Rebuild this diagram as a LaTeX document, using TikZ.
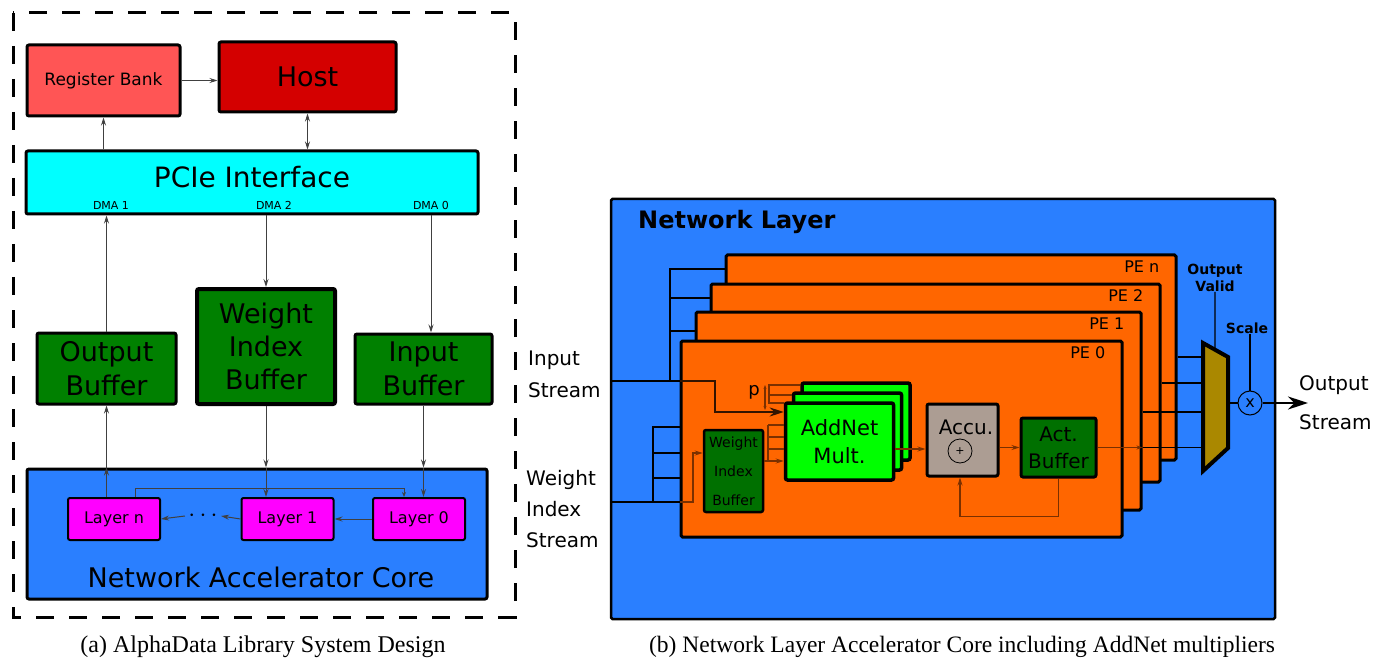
\documentclass[tikz,border=0pt]{standalone}
\usepackage{fontspec}
\setmainfont{DejaVu Sans}
\newfontfamily\capfont{Liberation Serif}
\usepackage{xcolor}
\usetikzlibrary{arrows.meta,positioning,calc}

\definecolor{regred}{HTML}{FF5555}
\definecolor{hostred}{HTML}{D40000}
\definecolor{pcicyan}{HTML}{00FFFF}
\definecolor{bufgreen}{HTML}{008000}
\definecolor{pegreen}{HTML}{007000}
\definecolor{coreblue}{HTML}{2A7FFF}
\definecolor{layermag}{HTML}{FF00FF}
\definecolor{peorange}{HTML}{FF6600}
\definecolor{multgreen}{HTML}{00FF00}
\definecolor{accugray}{HTML}{AC9D93}
\definecolor{muxgold}{HTML}{AA8800}
\definecolor{wirebrown}{HTML}{7A3000}

\newcommand{\fsz}[2]{\fontsize{#1}{#2}\selectfont}

\begin{document}
\begin{tikzpicture}[x=1pt,y=-1pt,
  >={Stealth[length=8pt,width=5pt]},
  blk/.style={draw,rounded corners=2pt,line width=3pt,inner sep=0pt,align=center},
  layerbox/.style={blk,fill=layermag,line width=2pt,minimum width=92,minimum height=42,font=\fsz{16}{19}},
  pebox/.style={draw,fill=peorange,line width=3pt,rounded corners=1.5pt},
  pelabel/.style={anchor=north east,inner sep=0pt,font=\fsz{16}{19}},
  multbox/.style={blk,fill=multgreen,line width=3.5pt,minimum width=108,minimum height=77,font=\fsz{21}{28}},
  ctrl/.style={align=center,inner sep=0pt,font=\bfseries\fsz{14}{17}},
  iolabel/.style={align=left,inner sep=0pt,anchor=west},
  wire/.style={draw=black!75,line width=1pt},
  bus/.style={draw=black,line width=1.2pt},
  pewire/.style={draw=wirebrown,line width=1.2pt},
  thickwire/.style={draw=black,line width=2pt}]

  \useasboundingbox (0,0) rectangle (1386,660);

  % (a) system design
  \draw[line width=3pt,dash pattern=on 18pt off 15pt] (13,13) rectangle (515,617);

  \node[blk,fill=regred,minimum width=153,minimum height=71,font=\fsz{17}{20}] (regbank) at (103.5,80.5) {Register Bank};
  \node[blk,fill=hostred,minimum width=177,minimum height=70,font=\fsz{27}{32}] (host) at (307.5,77) {Host};
  \node[blk,fill=pcicyan,minimum width=452,minimum height=63] (pcie) at (252,182.5) {};
  \node[font=\fsz{28}{32}] (pcietxt) at (pcie.center) [yshift=5pt] {PCIe Interface};
  \node[font=\fsz{11}{13}] (dma1) at (111,205) {DMA 1};
  \node[font=\fsz{11}{13}] (dma2) at (274,205) {DMA 2};
  \node[font=\fsz{11}{13}] (dma0) at (431,205) {DMA 0};

  \node[blk,fill=bufgreen,minimum width=139,minimum height=71,font=\fsz{27}{34}] (outbuf) at (106.5,368.5) {Output\\Buffer};
  \node[blk,fill=bufgreen,line width=4pt,minimum width=138,minimum height=115,font=\fsz{27}{33}] (wibuf) at (266,346.5) {Weight\\Index\\Buffer};
  \node[blk,fill=bufgreen,minimum width=137,minimum height=70,font=\fsz{27}{34}] (inbuf) at (423.5,369) {Input\\Buffer};

  \node[blk,fill=coreblue,minimum width=460,minimum height=130] (core) at (257,534) {};
  \node[font=\fsz{27}{32}] (coretxt) at (261,577) {Network Accelerator Core};
  \node[layerbox] (layern) at (114,519) {Layer n};
  \node[layerbox] (layer1) at (287.5,519) {Layer 1};
  \node[layerbox] (layer0) at (419,519) {Layer 0};
  \node[font=\fsz{24}{26}] (dots) at (203,516) {$\cdots$};

  \draw[wire,->] (regbank.east) -- (regbank.east -| host.west);
  \draw[wire,->] (regbank.south |- pcie.north) -- (regbank.south);
  \draw[wire,<->] (host.south) -- (host.south |- pcie.north);
  \draw[wire,->] (outbuf.north) -- (outbuf.north |- pcie.south);
  \draw[wire,->] (wibuf.north |- pcie.south) -- (wibuf.north);
  \draw[wire,->] (dma0 |- pcie.south) -- (dma0 |- inbuf.north);

  \draw[wire,->] (outbuf.south |- layern.north) -- (outbuf.south |- core.north);
  \draw[wire,->] (outbuf.south |- core.north) -- (outbuf.south);
  \draw[wire,->] (wibuf.south) -- (wibuf.south |- core.north);
  \draw[wire,->] (wibuf.south |- core.north) -- (wibuf.south |- layer1.north);
  \draw[wire,->] (inbuf.south) -- (inbuf.south |- core.north);
  \draw[wire,->] (inbuf.south |- core.north) -- (inbuf.south |- layer0.north);
  \draw[wire,->] (layer0.west) -- (layer1.east);
  \draw[wire,->] (layer1.west) -- (dots.east);
  \draw[wire,->] (dots.west) -- (layern.east);
  \draw[wire,->,>={Stealth[length=5pt,width=4pt]}] ($(layern.north)+(21,0)$) -- ++(0,-9) -| ($(layer0.north)+(-15,0)$);

  % (b) network layer
  \node[draw,fill=coreblue,line width=2.5pt,rounded corners=1.5pt,minimum width=664,minimum height=420] (netlayer) at (943,409) {};
  \node[anchor=west,inner sep=0pt,font=\bfseries\fsz{24}{28}] (nltitle) at (638,222) {Network Layer};

  % PEs, back to front
  \node[pebox,minimum width=450,minimum height=205] (pen) at (951,357.5) {};
  \node[pelabel] (penlab) at ($(pen.north east)+(-18,7)$) {PE n};
  \node[pebox,minimum width=449,minimum height=198] (pe2) at (935.5,383) {};
  \node[pelabel] (pe2lab) at ($(pe2.north east)+(-18,7)$) {PE 2};
  \node[pebox,minimum width=445,minimum height=198] (pe1) at (918.5,411) {};
  \node[pelabel] (pe1lab) at ($(pe1.north east)+(-18,7)$) {PE 1};
  \node[pebox,minimum width=441,minimum height=196] (pe0) at (901.5,439) {};
  \node[pelabel] (pe0lab) at ($(pe0.north east)+(-18,7)$) {PE 0};

  % streams in
  \coordinate (instream) at (611,381);
  \coordinate (inbus) at (670,381);
  \coordinate (wstream) at (611,502);
  \coordinate (wbus) at (653,502);
  \draw[bus] (inbus) |- (pen.west |- 0,269);
  \draw[bus] (inbus |- 0,298) -- (pe2.west |- 0,298);
  \draw[bus] (inbus |- 0,331) -- (pe1.west |- 0,331);
  \draw[thickwire] (instream) -- (instream -| pe0.west);
  \draw[thickwire] (wstream) -- (wstream -| pe0.west);
  \draw[bus] (wbus) |- (pe0.west |- 0,427);
  \draw[bus] (wbus |- 0,453) -- (pe0.west |- 0,453);
  \draw[bus] (wbus |- 0,478) -- (pe0.west |- 0,478);

  % inside PE 0
  \node[blk,fill=pegreen,line width=2.5pt,minimum width=59,minimum height=82,font=\fsz{14}{29}] (wib) at (733.5,471) {Weight\\Index\\Buffer};
  \node[multbox] (mult2) at (856,421.5) {};
  \node[multbox] (mult1) at (847.5,431.5) {};
  \node[multbox] (mult0) at (839.5,441.5) {AddNet\\Mult.};
  \node[blk,fill=accugray,minimum width=71,minimum height=72] (accu) at (962.5,440) {};
  \node[font=\fsz{20}{24}] (accutxt) at (966,427) {Accu.};
  \node[circle,draw,line width=0.8pt,minimum size=24,inner sep=0pt,font=\fsz{11}{11}] (accusum) at (960,451) {+};
  \node[blk,fill=pegreen,minimum width=75,minimum height=59,font=\fsz{20}{27}] (act) at (1058.5,447.5) {Act.\\Buffer};

  \coordinate (pbus) at (769,385);
  \coordinate (wbus2) at (768,425);
  \draw[pewire,line width=1.8pt,draw=black!80!peorange,-{Stealth[length=14pt,width=9pt]}] (instream -| pe0.west) -- (715,381) -- (715,412) -- (mult0.west |- 0,412);
  \draw[pewire,->] (wstream -| pe0.west) -| (693,453) -- (wib.west |- 0,453);
  \draw[pewire] (mult2.west |- pbus) -- (pbus) -- (pbus |- 0,403) -- (mult0.west |- 0,403);
  \draw[pewire] (pbus |- 0,395) -- (mult1.west |- 0,395);
  \draw[pewire,<->,>={Stealth[length=4pt,width=3pt]}] (765,385) -- (765,410);
  \node[font=\fsz{18}{20}] (plabel) at (754,392) {p};
  \draw[pewire] (wbus2) -- (mult0.west |- wbus2);
  \draw[pewire] (wbus2 |- 0,437) -- (mult0.west |- 0,437);
  \draw[pewire] (wbus2 |- 0,449) -- (mult0.west |- 0,449);
  \draw[pewire] (wbus2) -- (wbus2 |- 0,461);
  \draw[pewire,->] (wib.east |- 0,461) -- (mult0.west |- 0,461);
  \draw[pewire,->] (mult0.east |- 0,449) -- (accu.west |- 0,449);
  \draw[pewire,->] (accu.east |- act) -- (act.west);
  \draw[pewire,->] (act.south) -- ++(0,38) -| (accusum |- accu.south);

  % mux and output
  \coordinate (muxtl) at (1203,343);
  \coordinate (muxtr) at (1228,357);
  \coordinate (muxbr) at (1228,448);
  \coordinate (muxbl) at (1203,471);
  \draw[pewire,->,>={Stealth[length=6pt,width=4pt]}] (act.east) -- (pe1.east |- act.east);
  \draw[bus] (pe1.east |- act.east) -- (muxtl |- act.east);
  \draw[bus] (pen.east |- 0,357) -- (muxtl |- 0,357);
  \draw[bus] (pe2.east |- 0,383) -- (muxtl |- 0,383);
  \draw[bus] (pe1.east |- 0,412) -- (muxtl |- 0,412);
  \draw[fill=muxgold,line width=4pt,line join=miter] (muxtl) -- (muxtr) -- (muxbr) -- (muxbl) -- cycle;

  \node[ctrl] (outvalid) at (1215,278) {Output\\Valid};
  \node[ctrl] (scale) at (1247,328) {Scale};
  \node[circle,draw,line width=1pt,minimum size=24,inner sep=0pt,font=\fsz{16}{16}] (scalemul) at (1250,403) {x};
  \draw[bus] (outvalid.south) -- ($(muxtl)!0.48!(muxtr)$);
  \draw[bus] (scalemul.north |- scale.south) -- (scalemul.north);
  \draw[bus] (muxtr |- scalemul) -- (scalemul.west);
  \coordinate (outstream) at (1308,403);
  \draw[thickwire,-{Stealth[length=20pt,width=13pt]}] (scalemul.east) -- (outstream);

  \node[iolabel,font=\fsz{20}{32}] (instxt) at (528,374) {Input\\Stream};
  \node[iolabel,font=\fsz{20}{31}] (wstxt) at (526,509) {Weight\\Index\\Stream};
  \node[iolabel,font=\fsz{20}{39}] (outtxt) at (1299,403) {Output\\Stream};

  % captions
  \node[font=\capfont\fsz{24}{28}] (capa) at (263,647) {(a) AlphaData Library System Design};
  \node[font=\capfont\fsz{23.5}{28}] (capb) at (962,647) {(b) Network Layer Accelerator Core including AddNet multipliers};
\end{tikzpicture}
\end{document}
